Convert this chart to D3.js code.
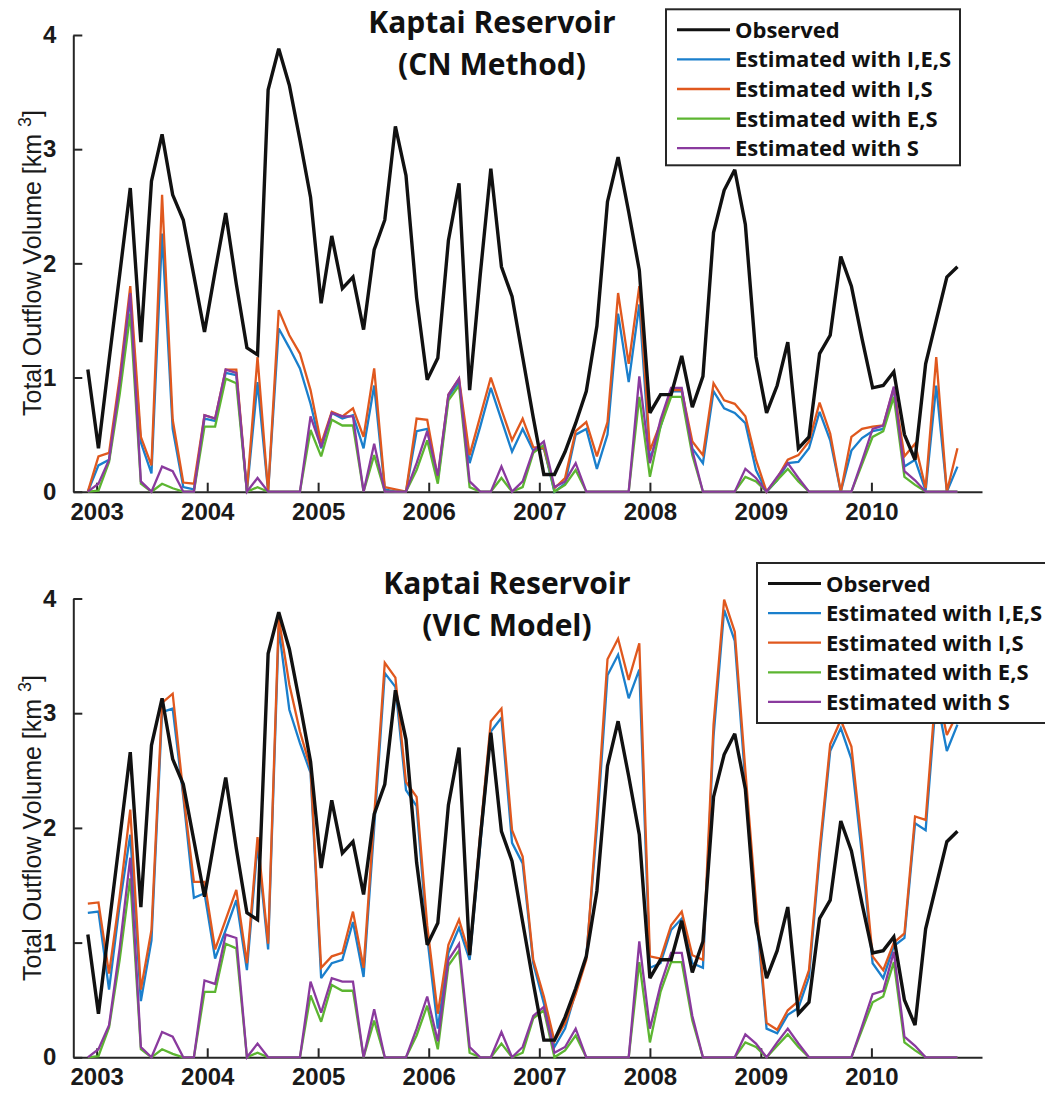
<!DOCTYPE html>
<html>
<head>
<meta charset="utf-8">
<script src="https://cdn.jsdelivr.net/npm/d3@7"></script>
<style>
  body { margin: 0; background: #fff; }
  .tick text { font-family: "Liberation Sans", Arial, sans-serif; font-weight: 700; font-size: 24px; fill: #1a1a1a; }
  .domain, .tick line { stroke: #262626; stroke-width: 2; }
</style>
</head>
<body>
<svg id="fig" width="1045" height="1099"></svg>
<script>
// Altimetry sampling: one value every 35 days starting early December 2002
const startDate = new Date(2002, 11, 3);
const stepDays = 35;

const years = [2003, 2004, 2005, 2006, 2007, 2008, 2009, 2010];
const yTicks = [0, 1, 2, 3, 4];

// Observed total outflow volume (km^3)
const observed = [
  1.07, 0.38, 1.15, 1.90, 2.66, 1.31, 2.72, 3.13, 2.60, 2.38,
  1.89, 1.40, 1.93, 2.44, 1.82, 1.26, 1.20, 3.52, 3.88, 3.56,
  3.08, 2.58, 1.65, 2.24, 1.78, 1.88, 1.42, 2.12, 2.38, 3.20,
  2.77, 1.70, 0.98, 1.17, 2.20, 2.70, 0.89, 1.90, 2.83, 1.97,
  1.71, 1.18, 0.65, 0.15, 0.15, 0.35, 0.60, 0.88, 1.45, 2.54,
  2.93, 2.45, 1.94, 0.69, 0.85, 0.85, 1.19, 0.74, 1.01, 2.27,
  2.64, 2.82, 2.34, 1.18, 0.69, 0.93, 1.31, 0.38, 0.48, 1.21,
  1.37, 2.06, 1.80, 1.34, 0.91, 0.93, 1.05, 0.50, 0.28, 1.12,
  1.50, 1.88, 1.97
];

// Estimated with E,S (same in both panels)
const estES = [
  0, 0.01, 0.26, 0.85, 1.56, 0.07, 0, 0.07, 0.03, 0,
  0, 0.57, 0.57, 0.99, 0.95, 0, 0.04, 0, 0, 0,
  0, 0.54, 0.31, 0.63, 0.58, 0.58, 0, 0.32, 0, 0,
  0, 0.19, 0.45, 0.07, 0.80, 0.93, 0.04, 0, 0, 0.12,
  0, 0.04, 0.34, 0.41, 0, 0.06, 0.19, 0, 0, 0,
  0, 0, 0.83, 0.13, 0.57, 0.83, 0.83, 0.32, 0, 0,
  0, 0, 0.13, 0.09, 0, 0.10, 0.20, 0.09, 0, 0,
  0, 0, 0, 0.24, 0.48, 0.53, 0.83, 0.13, 0.06, 0,
  0, 0, 0
];

// Estimated with S (same in both panels)
const estS = [
  0, 0.07, 0.28, 0.95, 1.74, 0.09, 0, 0.22, 0.18, 0,
  0, 0.67, 0.64, 1.07, 1.04, 0, 0.12, 0, 0, 0,
  0, 0.66, 0.39, 0.69, 0.66, 0.66, 0, 0.42, 0, 0,
  0, 0.25, 0.53, 0.14, 0.85, 0.99, 0.09, 0, 0, 0.22,
  0, 0.09, 0.36, 0.44, 0.04, 0.09, 0.25, 0, 0, 0,
  0, 0, 1.01, 0.25, 0.63, 0.91, 0.91, 0.36, 0, 0,
  0, 0, 0.20, 0.12, 0, 0.13, 0.25, 0.12, 0, 0,
  0, 0, 0, 0.27, 0.55, 0.58, 0.92, 0.18, 0.10, 0,
  0, 0, 0
];

// CN method: estimated with I,E,S
const cnIES = [
  0, 0.23, 0.28, 0.95, 1.69, 0.43, 0.16, 2.26, 0.55, 0.04,
  0.02, 0.64, 0.62, 1.04, 1.02, 0, 0.96, 0, 1.43, 1.26,
  1.08, 0.77, 0.38, 0.69, 0.64, 0.67, 0.38, 0.93, 0.02, 0,
  0, 0.53, 0.55, 0.10, 0.83, 0.96, 0.25, 0.57, 0.91, 0.63,
  0.35, 0.55, 0.36, 0.38, 0, 0.07, 0.50, 0.55, 0.20, 0.50,
  1.56, 0.96, 1.64, 0.28, 0.57, 0.88, 0.88, 0.38, 0.25, 0.88,
  0.73, 0.69, 0.60, 0.19, 0, 0.10, 0.25, 0.26, 0.38, 0.70,
  0.45, 0, 0.36, 0.47, 0.53, 0.55, 0.90, 0.22, 0.28, 0.01,
  0.93, 0, 0.22
];

// CN method: estimated with I,S
const cnIS = [
  0, 0.31, 0.34, 1.00, 1.80, 0.48, 0.23, 2.60, 0.63, 0.08,
  0.07, 0.67, 0.64, 1.07, 1.07, 0.01, 1.18, 0, 1.59, 1.37,
  1.21, 0.89, 0.42, 0.70, 0.66, 0.73, 0.48, 1.08, 0.04, 0.02,
  0, 0.64, 0.63, 0.12, 0.85, 0.99, 0.32, 0.66, 1.00, 0.72,
  0.45, 0.64, 0.39, 0.38, 0.03, 0.12, 0.53, 0.61, 0.31, 0.61,
  1.74, 1.12, 1.80, 0.36, 0.60, 0.89, 0.89, 0.44, 0.32, 0.95,
  0.80, 0.77, 0.66, 0.28, 0, 0.12, 0.28, 0.32, 0.44, 0.78,
  0.51, 0, 0.48, 0.55, 0.57, 0.58, 0.91, 0.31, 0.42, 0.03,
  1.18, 0, 0.38
];

// VIC model: estimated with I,E,S
const vicIES = [
  1.26, 1.27, 0.59, 1.33, 1.94, 0.49, 1.02, 3.01, 3.04, 2.27,
  1.39, 1.43, 0.86, 1.11, 1.37, 0.76, 1.85, 0.94, 3.74, 3.03,
  2.74, 2.48, 0.69, 0.82, 0.85, 1.18, 0.70, 2.00, 3.35, 3.23,
  2.33, 2.19, 1.05, 0.25, 0.91, 1.13, 0.85, 1.85, 2.84, 2.96,
  1.87, 1.69, 0.82, 0.47, 0.09, 0.25, 0.57, 0.88, 2.00, 3.33,
  3.51, 3.13, 3.38, 0.78, 0.82, 1.11, 1.21, 0.82, 0.78, 2.80,
  3.90, 3.63, 2.40, 1.28, 0.25, 0.21, 0.37, 0.43, 0.70, 1.75,
  2.67, 2.87, 2.60, 1.76, 0.82, 0.69, 0.97, 1.04, 2.04, 1.98,
  3.15, 2.67, 2.90
];

// VIC model: estimated with I,S
const vicIS = [
  1.34, 1.35, 0.73, 1.40, 2.16, 0.59, 1.11, 3.09, 3.17, 2.30,
  1.53, 1.53, 0.94, 1.20, 1.46, 0.82, 1.92, 0.99, 3.83, 3.25,
  2.84, 2.52, 0.78, 0.88, 0.91, 1.27, 0.78, 2.10, 3.44, 3.31,
  2.40, 2.27, 1.15, 0.38, 0.98, 1.20, 0.89, 1.95, 2.93, 3.04,
  1.98, 1.75, 0.85, 0.53, 0.14, 0.30, 0.55, 0.85, 2.10, 3.47,
  3.65, 3.29, 3.61, 0.88, 0.86, 1.15, 1.27, 0.89, 0.85, 2.90,
  3.99, 3.71, 2.50, 1.35, 0.30, 0.24, 0.41, 0.49, 0.76, 1.81,
  2.73, 2.94, 2.71, 1.85, 0.88, 0.76, 1.00, 1.08, 2.10, 2.07,
  3.25, 2.81, 3.00
];

const seriesNames = ["Observed", "Estimated with I,E,S", "Estimated with I,S", "Estimated with E,S", "Estimated with S"];
const seriesColors = ["#111111", "#1a7fcc", "#e0581e", "#5cb531", "#8a3a9e"];
const seriesWidths = [3.4, 2.3, 2.3, 2.3, 2.3];

const dates = observed.map((_, i) => d3.timeDay.offset(startDate, i * stepDays));

const panels = [
  { top: 35, bottom: 491.7, model: "(CN Method)", ies: cnIES, is: cnIS,
    titleX: 492, titleY: [33, 74.5], labelY: 263,
    legend: { x: 666, y: 9.3, w: 294, h: 156 } },
  { top: 598.5, bottom: 1057.3, model: "(VIC Model)", ies: vicIES, is: vicIS,
    titleX: 507, titleY: [594, 635.5], labelY: 828,
    legend: { x: 757, y: 563, w: 300, h: 160 } }
];

const svg = d3.select("#fig");
const x = d3.scaleTime()
  .domain([new Date(2002, 9, 16), new Date(2011, 0, 1)])
  .range([73.3, 982]);

panels.forEach(p => {
  const y = d3.scaleLinear().domain([0, 4]).range([p.bottom, p.top]);
  const g = svg.append("g");

  // axes with inward ticks
  g.append("g")
    .attr("transform", `translate(0,${p.bottom})`)
    .call(d3.axisBottom(x)
      .tickValues(years.map(yr => new Date(yr, 0, 1)))
      .tickFormat(d3.timeFormat("%Y"))
      .tickSizeInner(-9).tickSizeOuter(0).tickPadding(11));

  g.append("g")
    .attr("transform", `translate(${x.range()[0]},0)`)
    .call(d3.axisLeft(y)
      .tickValues(yTicks)
      .tickFormat(d3.format("d"))
      .tickSizeInner(-9).tickSizeOuter(0).tickPadding(17));

  // y-axis title
  const lab = g.append("text")
    .attr("transform", `translate(41,${p.labelY}) rotate(-90)`)
    .attr("text-anchor", "middle")
    .style("font-family", "'Liberation Sans', Arial, sans-serif")
    .style("font-size", "25px")
    .style("fill", "#1a1a1a");
  lab.append("tspan").text("Total Outflow Volume [km ");
  lab.append("tspan").attr("dy", -10).style("font-size", "18px").text("3");
  lab.append("tspan").attr("dy", 10).text("]");

  // series lines, observed drawn on top
  const values = [observed, p.ies, p.is, estES, estS];
  const line = d3.line().x((d, i) => x(dates[i])).y(d => y(d));
  [1, 2, 3, 4, 0].forEach(k => {
    g.append("path")
      .datum(values[k])
      .attr("d", line)
      .attr("fill", "none")
      .attr("stroke", seriesColors[k])
      .attr("stroke-width", seriesWidths[k])
      .attr("stroke-linejoin", "miter")
      .attr("stroke-miterlimit", 3);
  });

  // title
  const title = g.append("text")
    .attr("text-anchor", "middle")
    .style("font-family", "'Open Sans', sans-serif")
    .style("font-weight", 700)
    .style("font-size", "30px")
    .style("fill", "#111");
  title.append("tspan").attr("x", p.titleX).attr("y", p.titleY[0]).text("Kaptai Reservoir");
  title.append("tspan").attr("x", p.titleX).attr("y", p.titleY[1]).text(p.model);

  // legend
  const L = p.legend;
  const lg = g.append("g").attr("transform", `translate(${L.x},${L.y})`);
  lg.append("rect")
    .attr("width", L.w).attr("height", L.h)
    .attr("fill", "#fff").attr("stroke", "#262626").attr("stroke-width", 2);
  seriesNames.forEach((name, k) => {
    const ry = 20.5 + k * 29.6;
    lg.append("line")
      .attr("x1", 11).attr("x2", 64).attr("y1", ry).attr("y2", ry)
      .attr("stroke", seriesColors[k]).attr("stroke-width", k === 0 ? 3 : 2.3);
    lg.append("text")
      .attr("x", 69).attr("y", ry + 8)
      .style("font-family", "'Open Sans', sans-serif")
      .style("font-weight", 700)
      .style("font-size", "22px")
      .style("fill", "#111")
      .text(name);
  });
});
</script>
</body>
</html>
